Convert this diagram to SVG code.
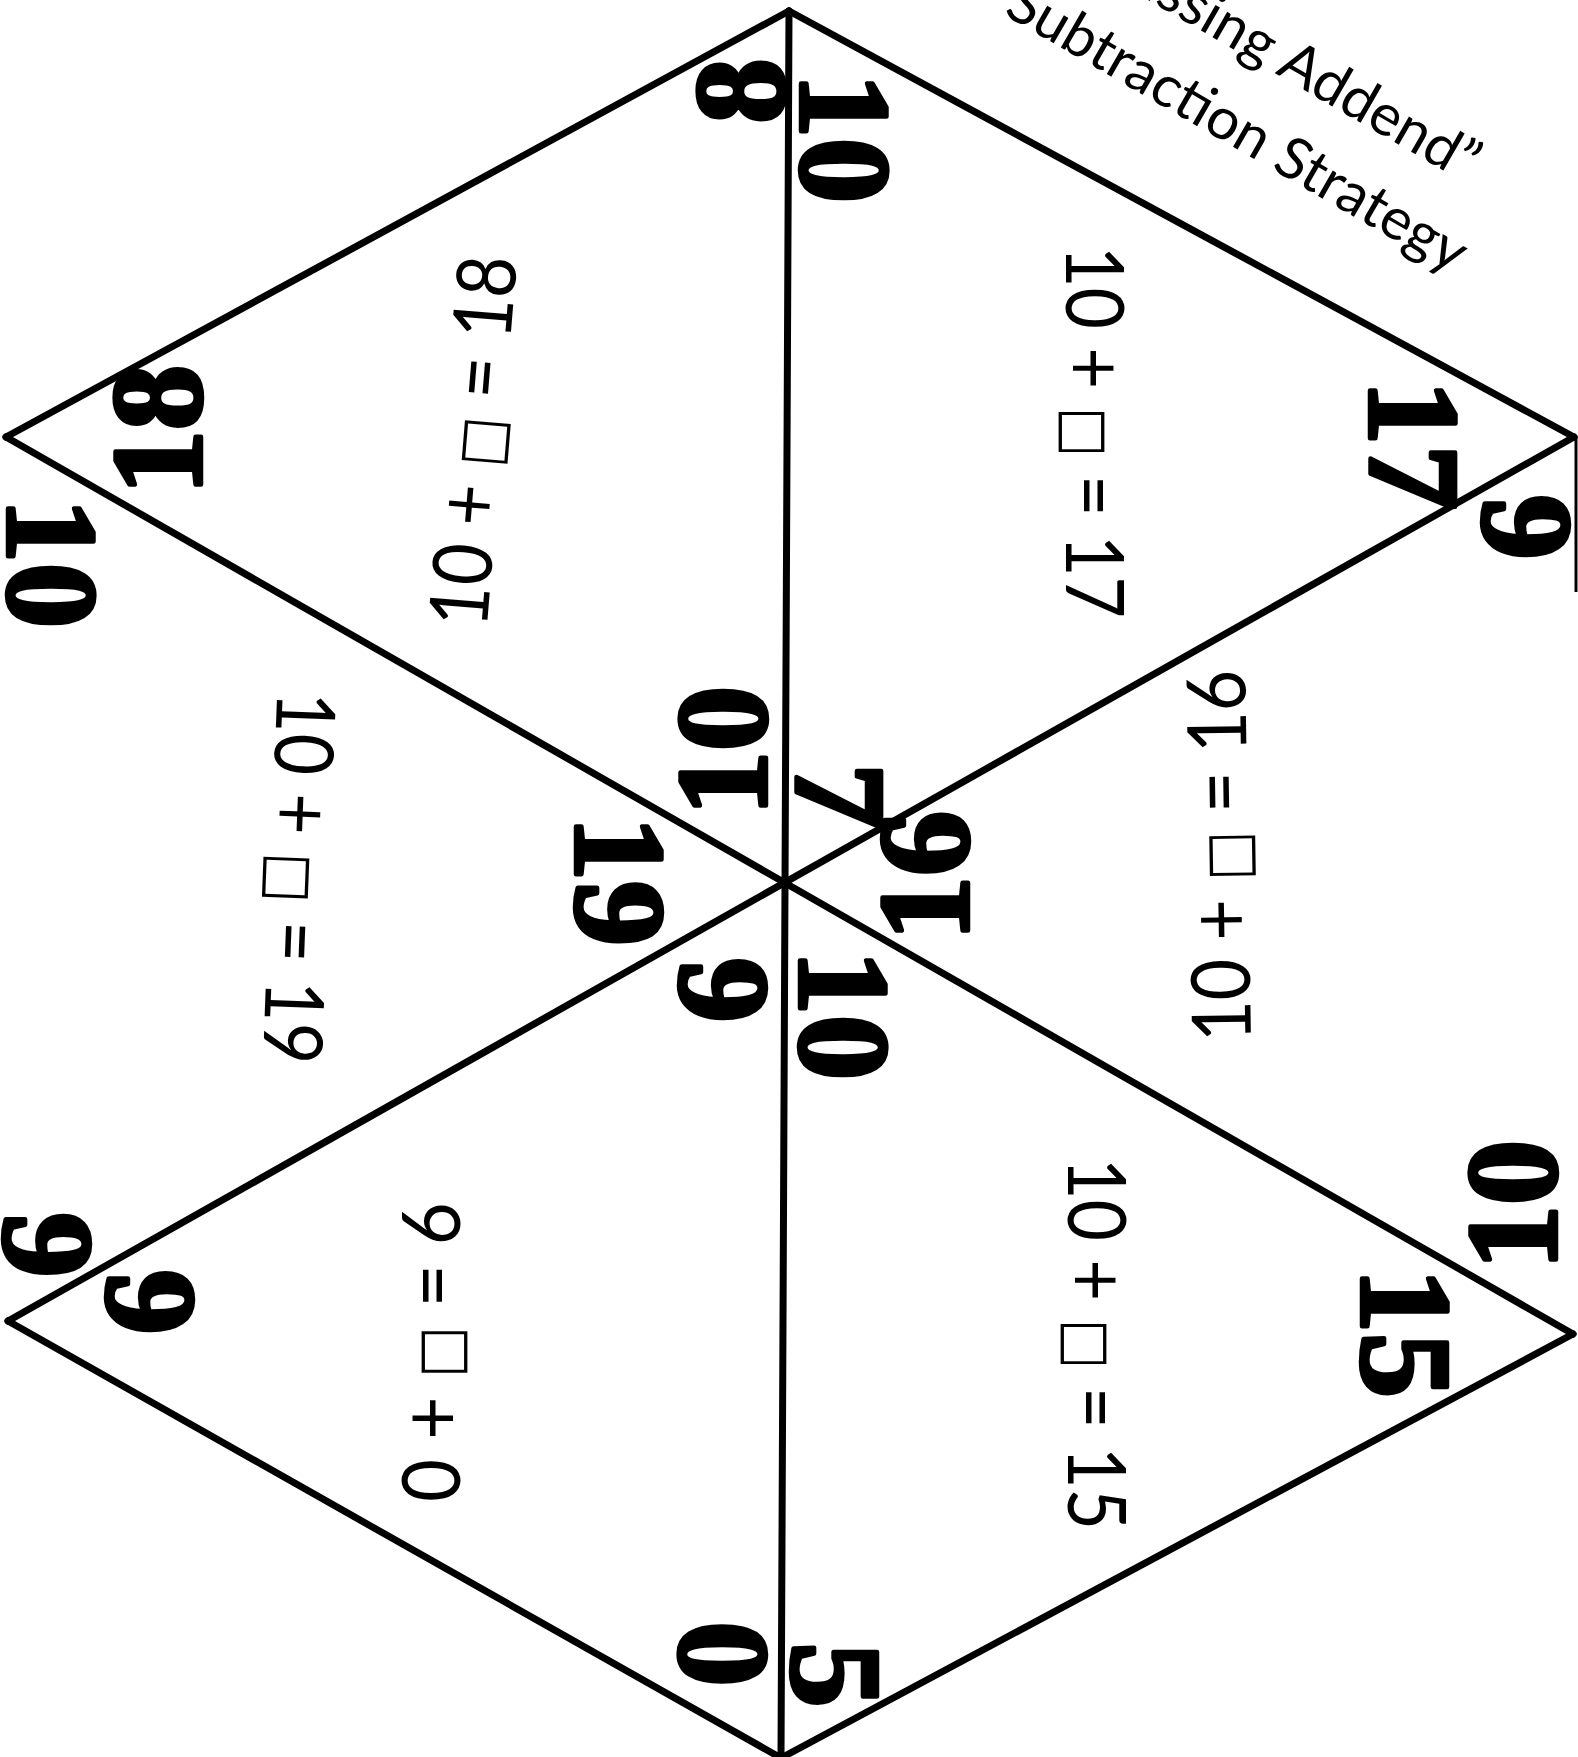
<svg xmlns="http://www.w3.org/2000/svg" width="1578" height="1757" viewBox="0 0 1578 1757">
<style>
.big{font-family:"Liberation Serif","Times New Roman",serif;font-weight:bold;font-size:130px;fill:#000;stroke:#000;stroke-width:4.5;stroke-linejoin:round;text-anchor:middle}
.eq{font-family:Lato,"Open Sans",sans-serif;font-size:82px;fill:#000;text-anchor:middle}
.sq{font-family:"DejaVu Sans",sans-serif;font-size:60px}
.ttl{font-family:Lato,"Open Sans",sans-serif;font-size:58px;fill:#000;text-anchor:middle}
.edge{fill:none;stroke:#000;stroke-width:7;stroke-linecap:round;stroke-linejoin:round}
</style>
<rect width="1578" height="1757" fill="#fff"/>
<g id="connectors">
<path class="edge" d="M789,11 L6,437"/>
<path class="edge" d="M789,11 L1574,437"/>
<path class="edge" d="M789,11 L781,1758"/>
<path class="edge" d="M6,437 L1573,1334"/>
<path class="edge" d="M1574,437 L8,1321"/>
<path class="edge" d="M8,1321 L781,1758"/>
<path class="edge" d="M1573,1334 L781,1758"/>
<path d="M1576,437 L1576,592" stroke="#000" stroke-width="3"/>
</g>
<g id="title">
<text class="ttl" x="1271" y="71" transform="rotate(30 1271 71)">“Missing Addend”</text>
<text class="ttl" x="1228" y="144" transform="rotate(30 1228 144)">Subtraction Strategy</text>
</g>
<g id="tri-top-left">
<text class="big" transform="translate(740,91) rotate(-90)" y="44">8</text>
<text class="big" transform="translate(157,430) rotate(-90)" y="44">18</text>
<text class="big" transform="translate(722,751) rotate(-90)" y="44">10</text>
<text class="eq" transform="translate(473,441) rotate(-85.3)" y="29" textLength="372" lengthAdjust="spacingAndGlyphs">10 + <tspan class="sq">□</tspan> = 18</text>
</g>
<g id="tri-top-right">
<text class="big" transform="translate(845,138) rotate(90)" y="44">10</text>
<text class="big" transform="translate(1414,445) rotate(90)" y="44">17</text>
<text class="big" transform="translate(840,796) rotate(90)" y="44">7</text>
<text class="eq" transform="translate(1095,432) rotate(90)" y="29" textLength="372" lengthAdjust="spacingAndGlyphs">10 + <tspan class="sq">□</tspan> = 17</text>
</g>
<g id="region-left">
<text class="big" transform="translate(52,563) rotate(90)" y="44">10</text>
<text class="big" transform="translate(620,881) rotate(90)" y="44">19</text>
<text class="big" transform="translate(48,1245) rotate(90)" y="44">9</text>
<text class="eq" transform="translate(299,878) rotate(92.2)" y="29" textLength="372" lengthAdjust="spacingAndGlyphs">10 + <tspan class="sq">□</tspan> = 19</text>
</g>
<g id="region-right">
<text class="big" transform="translate(1524,527) rotate(-90)" y="44">6</text>
<text class="big" transform="translate(924,876) rotate(-90)" y="44">16</text>
<text class="big" transform="translate(1512,1205) rotate(-90)" y="44">10</text>
<text class="eq" transform="translate(1219,856) rotate(-90.9)" y="29" textLength="372" lengthAdjust="spacingAndGlyphs">10 + <tspan class="sq">□</tspan> = 16</text>
</g>
<g id="tri-bottom-left">
<text class="big" transform="translate(721,990) rotate(-90)" y="44">6</text>
<text class="big" transform="translate(148,1302) rotate(-90)" y="44">6</text>
<text class="big" transform="translate(721,1654) rotate(-90)" y="44">0</text>
<text class="eq" transform="translate(431,1352) rotate(-90)" y="29" textLength="300" lengthAdjust="spacingAndGlyphs">0 + <tspan class="sq">□</tspan> = 6</text>
</g>
<g id="tri-bottom-right">
<text class="big" transform="translate(844,1015) rotate(90)" y="44">10</text>
<text class="big" transform="translate(1406,1333) rotate(90)" y="44">15</text>
<text class="big" transform="translate(836,1675) rotate(90)" y="44">5</text>
<text class="eq" transform="translate(1097,1344) rotate(90)" y="29" textLength="372" lengthAdjust="spacingAndGlyphs">10 + <tspan class="sq">□</tspan> = 15</text>
</g>
</svg>
